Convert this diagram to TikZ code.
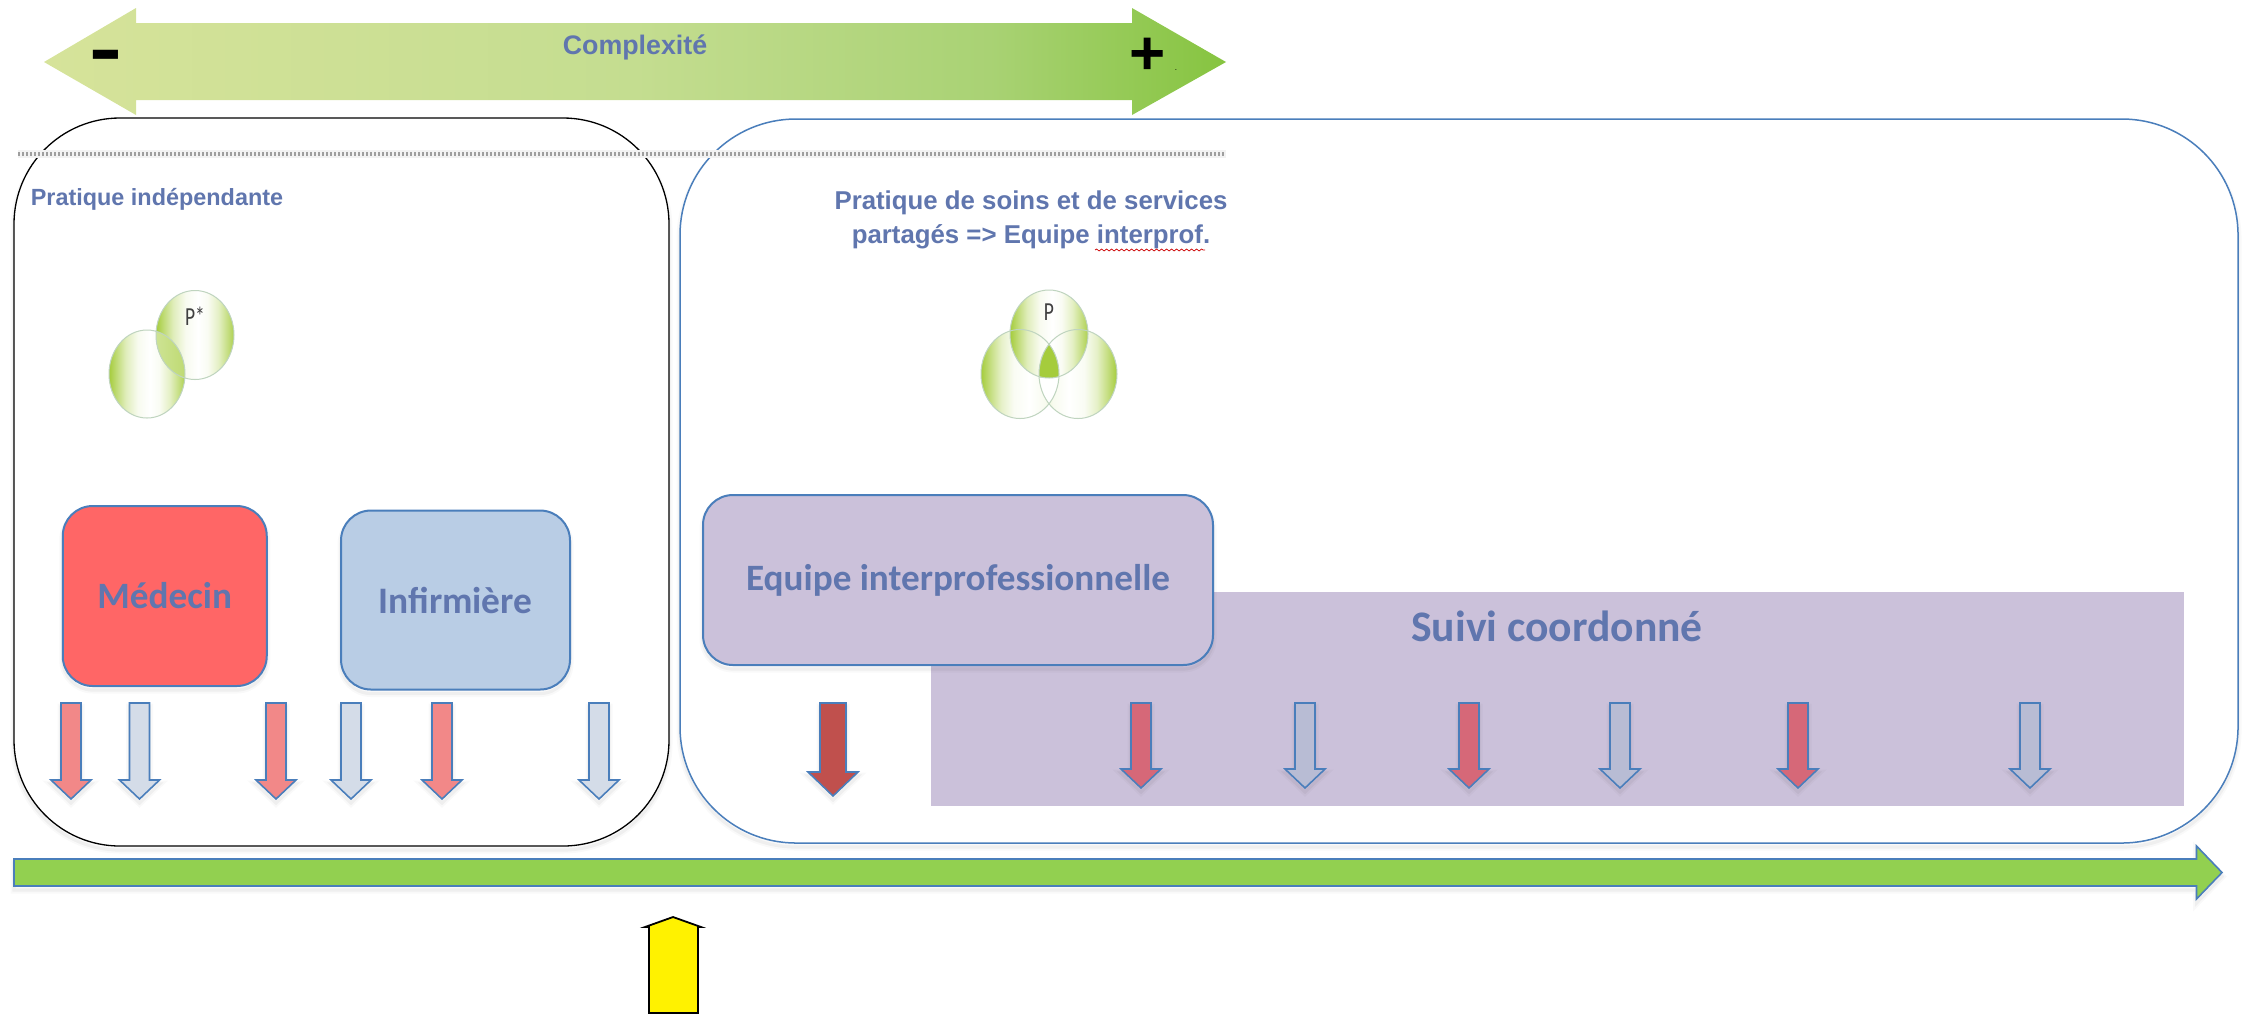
\documentclass[tikz,border=0pt]{standalone}
\usepackage{fontspec}
\setmainfont{Carlito}
\newfontfamily\lib{Liberation Sans}
\usetikzlibrary{decorations.pathmorphing}
\definecolor{txtblue}{HTML}{6076AE}
\definecolor{edgeblue}{HTML}{4A7EBB}
\definecolor{vgreen}{HTML}{A5CC3C}
\definecolor{topA}{HTML}{D6E39A}
\definecolor{topB}{HTML}{C4DD90}
\definecolor{topD}{HTML}{A9D274}
\definecolor{topC}{HTML}{86C440}
\definecolor{suivifill}{HTML}{CBC1DA}
\definecolor{medred}{HTML}{FF6666}
\definecolor{infblue}{HTML}{B9CDE5}
\definecolor{pinkA}{HTML}{F28888}
\definecolor{greyA}{HTML}{D4DCE8}
\definecolor{pinkB}{HTML}{D66878}
\definecolor{greyB}{HTML}{B8BCD4}
\definecolor{darkred}{HTML}{C0504D}
\definecolor{timegreen}{HTML}{92D050}
\pgfdeclarehorizontalshading{vennboth}{100bp}{color(0bp)=(vgreen); color(25bp)=(vgreen); color(30bp)=(vgreen!70); color(36bp)=(vgreen!35); color(44bp)=(vgreen!8); color(52bp)=(white); color(58bp)=(vgreen!6); color(65bp)=(vgreen!30); color(71bp)=(vgreen!65); color(75bp)=(vgreen!90); color(100bp)=(vgreen!90)}
\pgfdeclarehorizontalshading{vennleft}{100bp}{color(0bp)=(vgreen); color(25bp)=(vgreen); color(31bp)=(vgreen!65); color(38bp)=(vgreen!28); color(46bp)=(vgreen!6); color(56bp)=(white); color(66bp)=(vgreen!8); color(75bp)=(vgreen!35); color(100bp)=(vgreen!35)}
\pgfdeclarehorizontalshading{vennright}{100bp}{color(0bp)=(vgreen!35); color(25bp)=(vgreen!35); color(34bp)=(vgreen!8); color(44bp)=(white); color(54bp)=(vgreen!6); color(62bp)=(vgreen!28); color(69bp)=(vgreen!65); color(75bp)=(vgreen); color(100bp)=(vgreen)}
\pgfdeclarehorizontalshading{vennover}{100bp}{color(0bp)=(vgreen!55); color(25bp)=(vgreen!55); color(75bp)=(vgreen); color(100bp)=(vgreen)}
\pgfdeclarehorizontalshading{topbar}{100bp}{color(0bp)=(topA); color(25bp)=(topA); color(50bp)=(topB); color(65bp)=(topD); color(75bp)=(topC); color(100bp)=(topC)}
\tikzset{
  softshadow/.style={
    preaction={draw=black,opacity=.025,line width=3.5pt,transform canvas={yshift=-2pt}},
    preaction={draw=black,opacity=.04,line width=1.6pt,transform canvas={yshift=-2pt}}},
  rbox/.style={draw=edgeblue,line width=1pt,softshadow,rounded corners=15pt,align=center,text=txtblue,inner sep=0pt,font=\bfseries},
  bigbox/.style={softshadow,rounded corners=53pt},
  arr/.style={draw=edgeblue,line width=.8pt,softshadow,miter limit=10},
  pinkarr/.style={arr,fill=#1},
  lbl/.style={text=txtblue,font=\lib\bfseries,inner sep=0pt},
  vring/.style={draw=black!20!green!25!gray!40,line width=.5pt},
}
% arrow pointing down: centre x, top y, head y, tip y, half shaft, half head, colour
\newcommand{\dnarrow}[7]{\path[pinkarr=#7] (#1-#5,#2) -- (#1+#5,#2) -- (#1+#5,#3) -- (#1+#6,#3) -- (#1,#4) -- (#1-#6,#3) -- (#1-#5,#3) -- cycle;}
\begin{document}
\begin{tikzpicture}[x=.5pt,y=-.5pt]
\useasboundingbox (0,0) rectangle (2246,1014);
% top double arrow
\path[shading=topbar] (44,62) -- (136,8) -- (136,23) -- (1132,23) -- (1132,8) -- (1226,62) -- (1132,115) -- (1132,100) -- (136,100) -- (136,115) -- cycle;
\node[lbl,font=\lib\bfseries\fontsize{13.4}{15}\selectfont] (cx) at (635,47) {Complexité};
\node[inner sep=0pt,font=\lib\bfseries\fontsize{38}{38}\selectfont] (minus) at (106,62) {\scalebox{1.3}[1]{-}};
\node[inner sep=0pt,font=\lib\bfseries\fontsize{31}{31}\selectfont] (plus) at (1148,56) {+};
\node[inner sep=0pt,font=\lib\fontsize{4}{4}\selectfont] (dot) at (1176,70) {.};
% big boxes
\draw[bigbox,draw=black,fill=white,line width=.65pt] (14,118) rectangle (669,846);
\draw[bigbox,draw=edgeblue,fill=white,line width=.75pt,rounded corners=58pt] (680,119) rectangle (2238,843);
% dotted line
\draw[draw=black!5,line width=4pt] (18,154) -- (1226,154);
\draw[draw=black!38,line width=1.6pt,dash pattern=on 1pt off 1pt] (18,154) -- (1226,154);
% titles
\node[lbl,font=\lib\bfseries\fontsize{11.7}{13}\selectfont] (pi) at (157,199) {Pratique indépendante};
\node[lbl,align=center,font=\lib\bfseries\fontsize{12.9}{17}\selectfont] (ps) at (1031,220) {Pratique de soins et de services\\partagés => Equipe interprof.};
\draw[red!80!black,line width=.35pt,decorate,decoration={snake,amplitude=.5pt,segment length=2.5pt}] (1095,250) -- (1205,250);
% venn 1
\path[shading=vennboth] (147,374) ellipse [x radius=38,y radius=44];
\path[shading=vennboth] (195,335) ellipse [x radius=39,y radius=44.5];
\begin{scope}
\clip (147,374) ellipse [x radius=38,y radius=44];
\path[shading=vennover] (195,335) ellipse [x radius=39,y radius=44.5];
\end{scope}
\draw[vring] (147,374) ellipse [x radius=38,y radius=44];
\draw[vring] (195,335) ellipse [x radius=39,y radius=44.5];
\node[inner sep=0pt,text=black!75,font=\fontsize{13}{14}\selectfont] (pstar) at (195,316) {\scalebox{.75}[1]{P*}};
% venn 2
\path[shading=vennleft] (1020,374) ellipse [x radius=39,y radius=44.5];
\path[shading=vennright] (1078,374) ellipse [x radius=39,y radius=44.5];
\path[shading=vennboth] (1049,334) ellipse [x radius=39,y radius=44];
\begin{scope}
\clip (1049,334) ellipse [x radius=39,y radius=44];
\clip (1020,374) ellipse [x radius=39,y radius=44.5];
\clip (1078,374) ellipse [x radius=39,y radius=44.5];
\fill[vgreen] (1000,280) rectangle (1100,430);
\end{scope}
\begin{scope}
\clip (1020,374) ellipse [x radius=39,y radius=44.5];
\clip (1078,374) ellipse [x radius=39,y radius=44.5];
\fill[white] (1000,378) rectangle (1100,430);
\end{scope}
\draw[vring] (1020,374) ellipse [x radius=39,y radius=44.5];
\draw[vring] (1078,374) ellipse [x radius=39,y radius=44.5];
\draw[vring] (1049,334) ellipse [x radius=39,y radius=44];
\node[inner sep=0pt,text=black!75,font=\fontsize{13}{14}\selectfont] (pp) at (1049,312) {\scalebox{.75}[1]{P}};
% suivi
\fill[fill=suivifill] (931,592) rectangle (2184,806);
\node[text=txtblue,inner sep=0pt,font=\bfseries\fontsize{21.8}{24}\selectfont] (sv) at (1557,626) {Suivi coordonné};
% boxes
\node[rbox,fill=medred,minimum width=102pt,minimum height=90pt,font=\bfseries\fontsize{18.6}{20}\selectfont] (med) at (164.75,596) {\raisebox{-1pt}{Médecin}};
\node[rbox,fill=infblue,minimum width=114.5pt,minimum height=89.5pt,font=\bfseries\fontsize{18.7}{20}\selectfont] (inf) at (455.5,600) {Infirmière};
\node[rbox,fill=suivifill,minimum width=255pt,minimum height=85pt,font=\bfseries\fontsize{18.6}{20}\selectfont] (eq) at (958,580) {Equipe interprofessionnelle};
% small arrows left
\dnarrow{71}{703}{780}{799}{10}{20}{pinkA}
\dnarrow{139.5}{703}{780}{799}{10}{20}{greyA}
\dnarrow{276}{703}{780}{799}{10}{20}{pinkA}
\dnarrow{351}{703}{780}{799}{10}{20}{greyA}
\dnarrow{442}{703}{780}{799}{10}{20}{pinkA}
\dnarrow{599}{703}{780}{799}{10}{20}{greyA}
% dark
\dnarrow{833}{703}{772}{796}{13}{25}{darkred}
% arrows on purple
\dnarrow{1141}{703}{769}{788}{10}{20}{pinkB}
\dnarrow{1305}{703}{769}{788}{10}{20}{greyB}
\dnarrow{1469}{703}{769}{788}{10}{20}{pinkB}
\dnarrow{1620}{703}{769}{788}{10}{20}{greyB}
\dnarrow{1798}{703}{769}{788}{10}{20}{pinkB}
\dnarrow{2030}{703}{769}{788}{10}{20}{greyB}
% timeline
\path[arr,fill=timegreen] (14,859) -- (2196.5,859) -- (2196.5,846) -- (2222,872.5) -- (2196.5,899) -- (2196.5,886) -- (14,886) -- cycle;
% yellow
\draw[fill=yellow,draw=black,line width=.9pt,miter limit=10] (649,1013) -- (649,927) -- (645,927) -- (673,917) -- (701,927) -- (698,927) -- (698,1013) -- cycle;
\end{tikzpicture}
\end{document}
